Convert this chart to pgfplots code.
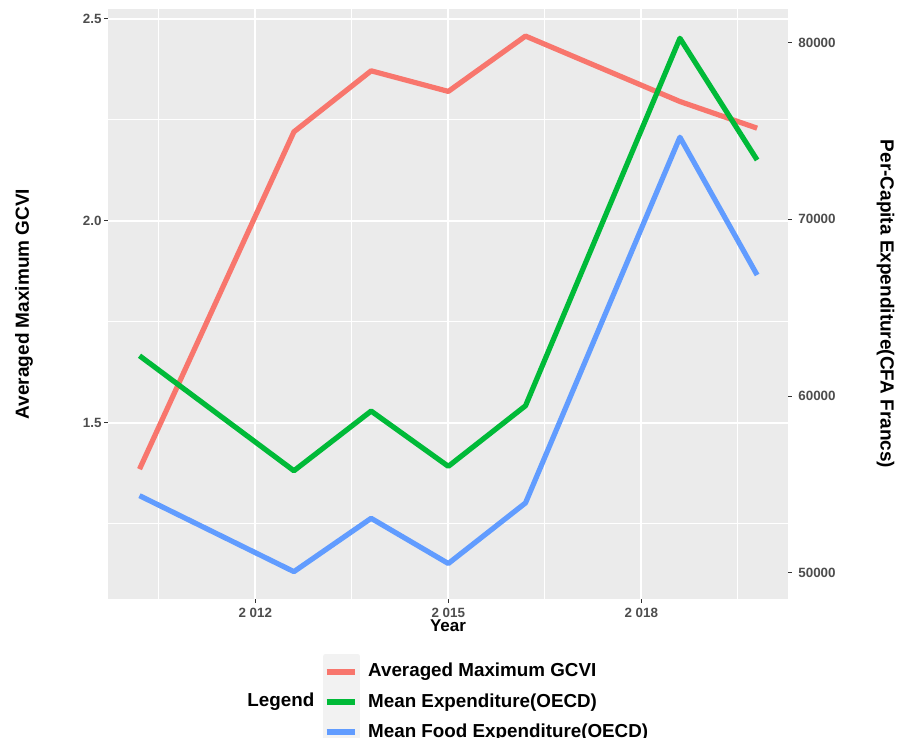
\documentclass[border=0pt]{standalone}
\usepackage{pgfplots}
\pgfplotsset{compat=1.18}
\usepackage{fontspec}
\setmainfont{Liberation Sans}
\definecolor{panelgray}{HTML}{EBEBEB}
\definecolor{keygray}{HTML}{F2F2F2}
\definecolor{gred}{HTML}{F8766D}
\definecolor{ggreen}{HTML}{00BA38}
\definecolor{gblue}{HTML}{619CFF}
\definecolor{tickgray}{HTML}{333333}
\definecolor{labgray}{HTML}{4D4D4D}
\pgfplotstableread{
year gcvi
2010.2 1.385
2012.6 2.220
2013.8 2.371
2015.0 2.320
2016.2 2.457
2018.6 2.295
2019.8 2.229
}\gcvi
\pgfplotstableread{
year mexp mfood
2010.2 62280 54360
2012.6 55770 50060
2013.8 59150 53080
2015.0 56020 50520
2016.2 59450 53950
2018.6 80250 74650
2019.8 73360 66850
}\expd
\newcommand{\ticklab}{\fontsize{6.7}{8}\selectfont\bfseries}
\newcommand{\titlefont}{\fontsize{9.5}{11}\selectfont\bfseries}
\begin{document}
\begin{tikzpicture}
\useasboundingbox (-54pt,-69.5pt) rectangle (396.5pt,299.5pt);
\pgfplotsset{
  common/.style={
    width=340pt, height=295pt, scale only axis,
    at={(0pt,0pt)}, anchor=south west,
    xmin=2009.71, xmax=2020.28,
    scaled x ticks=false, scaled y ticks=false,
    tick align=outside, major tick length=2pt, minor tick length=0pt,
    tick style={color=tickgray, line width=0.5pt},
  },
  series/.style={line width=2.6pt, line join=round},
}
\begin{axis}[common,
  clip mode=individual,
  ymin=1.0636, ymax=2.524,
  axis background/.style={fill=panelgray},
  axis line style={draw=none},
  tick pos=left,
  xtick={2012,2015,2018}, xticklabels={2 012,2 015,2 018},
  ytick={1.5,2,2.5}, yticklabels={1.5,2.0,2.5},
  minor xtick={2010.5,2013.5,2016.5,2019.5}, minor ytick={1.25,1.75,2.25},
  grid=both,
  major grid style={white, line width=1pt},
  minor grid style={white, line width=0.5pt},
  xticklabel style={font=\ticklab, text=labgray, inner sep=0pt, anchor=north, yshift=-2.5pt},
  yticklabel style={font=\ticklab, text=labgray, inner sep=0pt, anchor=east, xshift=-1pt},
  xlabel={Year},
  xlabel style={font=\fontsize{8.5}{10}\selectfont\bfseries, at={(axis description cs:0.5,0)}, anchor=center, inner sep=0pt, yshift=-13.5pt},
  ylabel={Averaged Maximum GCVI},
  ylabel style={font=\titlefont, at={(axis description cs:0,0.5)}, anchor=center, inner sep=0pt, yshift=42pt},
]
\addplot[series, gred] table[x=year, y=gcvi] {\gcvi};
\node[anchor=base west, font=\fontsize{9.4}{11}\selectfont\bfseries, inner sep=0pt] at (axis description cs:0.2044,-0.1824) {Legend};
\end{axis}
\begin{axis}[common,
  ymin=48512, ymax=81907,
  axis x line=none, axis y line*=right,
  y axis line style={draw=none},
  ytick pos=right,
  ytick={50000,60000,70000,80000}, yticklabels={50000,60000,70000,80000},
  yticklabel style={font=\ticklab, text=labgray, inner sep=0pt, anchor=west, xshift=3pt},
  ylabel={Per-Capita Expenditure(CFA Francs)},
  ylabel style={font=\titlefont, at={(axis description cs:1,0.5)}, anchor=center, rotate=180, inner sep=0pt, yshift=48.75pt},
  legend cell align=left,
  legend style={at={(axis description cs:0.3162,-0.0928)}, anchor=north west,
    draw=none, fill=none, inner sep=0pt, outer sep=0pt, row sep=-2.75pt,
    nodes={inner sep=0pt, font=\fontsize{9.4}{11}\selectfont\bfseries},
    /tikz/every odd column/.append style={column sep=4pt}},
  legend image code/.code={\fill[keygray] (0pt,-7.625pt) rectangle (16pt,7.625pt);
    \draw[#1, line width=3pt, line cap=butt] (0.5pt,0pt) -- (14.5pt,0pt);},
]
\addlegendimage{series, gred}
\addlegendentry{Averaged Maximum GCVI}
\addplot[series, ggreen] table[x=year, y=mexp] {\expd};
\addlegendentry{Mean Expenditure(OECD)}
\addplot[series, gblue] table[x=year, y=mfood] {\expd};
\addlegendentry{Mean Food Expenditure(OECD)}
\end{axis}
\end{tikzpicture}
\end{document}
